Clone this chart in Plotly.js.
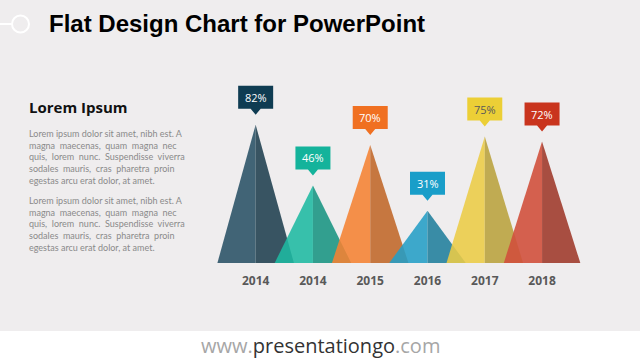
<!DOCTYPE html>
<html>
<head>
<meta charset="utf-8">
<script src="https://cdn.plot.ly/plotly-3.0.1.min.js"></script>
<style>html,body{margin:0;padding:0;background:#efedee;}#chart{width:640px;height:360px;}</style>
</head>
<body>
<div id="chart"></div>
<script>
// ---- data ----
var categories = ['2014', '2014', '2015', '2016', '2017', '2018'];
var values = [82, 46, 70, 31, 75, 72];
var valueLabels = ['82%', '46%', '70%', '31%', '75%', '72%'];

// ---- styles ----
var leftColors  = ['rgba(50,88,107,0.92)', 'rgba(30,186,162,0.88)', 'rgba(245,130,50,0.88)', 'rgba(36,158,198,0.88)', 'rgba(236,204,70,0.88)', 'rgba(208,80,60,0.9)'];
var rightColors = ['rgba(40,70,86,0.92)',  'rgba(24,148,130,0.88)', 'rgba(192,102,40,0.88)', 'rgba(32,126,156,0.88)', 'rgba(186,162,60,0.88)', 'rgba(160,60,46,0.9)'];
var boxColors   = ['#0f3c52', '#14b39b', '#f07021', '#199ec9', '#eccf36', '#c9341d'];
var boxText     = ['#ffffff', '#ffffff', '#ffffff', '#ffffff', '#5a5a5a', '#ffffff'];
var halfWidth = 0.668;

var traces = [];
var shapes = [];
var annotations = [];

for (var i = 0; i < values.length; i++) {
  var v = values[i];
  traces.push({
    x: [i - halfWidth, i, i, i - halfWidth],
    y: [0, v, 0, 0],
    mode: 'lines', fill: 'toself', fillcolor: leftColors[i],
    line: {width: 0, color: 'rgba(0,0,0,0)'}, hoverinfo: 'skip', showlegend: false
  });
  traces.push({
    x: [i, i, i + halfWidth, i],
    y: [0, v, 0, 0],
    mode: 'lines', fill: 'toself', fillcolor: rightColors[i],
    line: {width: 0, color: 'rgba(0,0,0,0)'}, hoverinfo: 'skip', showlegend: false
  });
  // callout box with pointer, sized in pixels, anchored at the apex
  shapes.push({
    type: 'path', xref: 'x', yref: 'y',
    xsizemode: 'pixel', ysizemode: 'pixel', xanchor: i, yanchor: v,
    path: 'M -17.5 16 L -5 16 L 0 10 L 5 16 L 17.5 16 L 17.5 39 L -17.5 39 Z',
    fillcolor: boxColors[i], line: {width: 0}
  });
  annotations.push({
    x: i, y: v, xref: 'x', yref: 'y', yshift: 27.5, yanchor: 'middle', xanchor: 'center',
    text: valueLabels[i], showarrow: false,
    font: {family: 'Open Sans', size: 11, color: boxText[i]}
  });
}

// Title and decoration
annotations.push({
  xref: 'paper', yref: 'paper', x: 47 / 640, y: 1 - 24 / 360, xanchor: 'left', yanchor: 'middle',
  text: '<b>Flat Design Chart for PowerPoint</b>', showarrow: false,
  font: {family: 'Liberation Sans', size: 24, color: '#000000'}
});
shapes.push({type: 'line', xref: 'paper', yref: 'paper', x0: 0, x1: 11.5 / 640, y0: 1 - 24 / 360, y1: 1 - 24 / 360, line: {color: '#ffffff', width: 2}});
shapes.push({type: 'circle', xref: 'paper', yref: 'paper', x0: 12 / 640, x1: 29 / 640, y0: 1 - 32.5 / 360, y1: 1 - 15.5 / 360, line: {color: '#ffffff', width: 2}});

// Footer
shapes.push({type: 'rect', xref: 'paper', yref: 'paper', x0: 0, x1: 1, y0: 0, y1: 1 - 331 / 360, fillcolor: '#ffffff', line: {width: 0}, layer: 'below'});
annotations.push({
  xref: 'paper', yref: 'paper', x: 0.5, y: 1 - 345 / 360, xanchor: 'center', yanchor: 'middle', showarrow: false,
  text: '<span style="color:#a6a6a6">www.</span><span style="color:#333333">presentationgo</span><span style="color:#a6a6a6">.com</span>',
  font: {family: 'Open Sans', size: 20}
});

// Left text
annotations.push({
  xref: 'paper', yref: 'paper', x: 27 / 640, y: 1 - 107 / 360, xanchor: 'left', yanchor: 'middle', showarrow: false,
  text: '<b>Lorem Ipsum</b>', font: {family: 'Open Sans', size: 15, color: '#111111'}
});
var para = 'Lorem ipsum dolor sit amet, nibh est. A<br>magna  maecenas,  quam  magna  nec<br>quis,  lorem  nunc.  Suspendisse  viverra<br>sodales  mauris,  cras  pharetra  proin<br>egestas arcu erat dolor, at amet.';
annotations.push({
  xref: 'paper', yref: 'paper', x: 27 / 640, y: 1 - 126 / 360, xanchor: 'left', yanchor: 'top', align: 'left', showarrow: false,
  text: para, font: {family: 'Lato', size: 9, color: '#8a8a8a'}
});
annotations.push({
  xref: 'paper', yref: 'paper', x: 27 / 640, y: 1 - 193 / 360, xanchor: 'left', yanchor: 'top', align: 'left', showarrow: false,
  text: para, font: {family: 'Lato', size: 9, color: '#8a8a8a'}
});

// y scale: 100 units = 168.6 px above the baseline at y = 263 px
var pxPerUnit = 1.686;
var topPx = 55;
var layout = {
  width: 640, height: 360,
  margin: {l: 0, r: 0, t: 0, b: 0},
  paper_bgcolor: '#efedee', plot_bgcolor: 'rgba(0,0,0,0)',
  showlegend: false,
  xaxis: {
    domain: [217 / 640, 581 / 640], range: [-0.675, 5.68],
    tickvals: [0, 1, 2, 3, 4, 5], ticktext: categories,
    showgrid: false, zeroline: false, showline: false,
    ticks: 'outside', ticklen: 7, tickcolor: 'rgba(0,0,0,0)',
    tickfont: {family: 'Open Sans', size: 12, color: '#595959', weight: 'bold'},
    fixedrange: true
  },
  yaxis: {
    domain: [1 - 263 / 360, 1 - topPx / 360], range: [0, (263 - topPx) / pxPerUnit],
    showgrid: false, zeroline: false, showline: false, showticklabels: false, ticks: '',
    fixedrange: true
  },
  shapes: shapes,
  annotations: annotations
};

Plotly.newPlot('chart', traces, layout, {displayModeBar: false, staticPlot: true});
</script>
</body>
</html>
